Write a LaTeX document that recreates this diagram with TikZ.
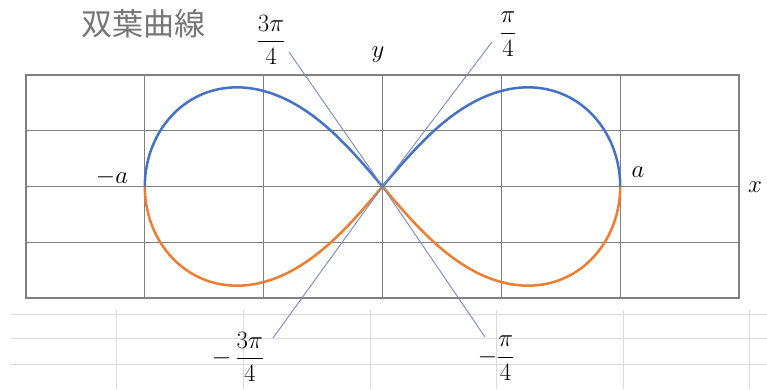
\documentclass[tikz,border=0pt]{standalone}
\usepackage{amsmath}
\usepackage{fontspec}
\newfontfamily\jpfont{Noto Sans CJK JP}
\definecolor{gridgray}{RGB}{128,128,128}
\definecolor{sheetgray}{RGB}{218,218,218}
\definecolor{calloutblue}{RGB}{118,140,184}
\definecolor{curveblue}{RGB}{68,114,196}
\definecolor{curveorange}{RGB}{237,125,49}
\definecolor{titlegray}{RGB}{118,118,118}
\begin{document}
\begin{tikzpicture}[x=1pt,y=-1pt,
  gridline/.style={draw=gridgray,line width=1.2pt},
  sheetline/.style={draw=sheetgray,line width=0.9pt},
  callout/.style={draw=calloutblue,line width=0.9pt},
  bluecurve/.style={draw=curveblue,line width=2.5pt},
  orangecurve/.style={draw=curveorange,line width=2.5pt},
  lbl/.style={inner sep=0pt,font=\fontsize{24}{28}\selectfont},
  fraclbl/.style={inner sep=0pt,font=\fontsize{25}{30}\selectfont},
  titlestyle/.style={inner sep=0pt,text=titlegray,font=\jpfont\fontsize{31}{34}\selectfont}]
\useasboundingbox[fill=white] (0,0) rectangle (767,389);
% spreadsheet lines below
\foreach \yy in {314,338,364} \draw[sheetline] (10,\yy) -- (767,\yy);
\foreach \xx in {116,243,370,496,623,749} \draw[sheetline] (\xx,310) -- (\xx,389);
% chart grid
\foreach \xx in {144.8,263.7,382.5,501.3,620.2} \draw[gridline] (\xx,75) -- (\xx,298);
\foreach \yy in {130.75,186.5,242.25} \draw[gridline] (26,\yy) -- (739,\yy);
\draw[gridline] (26,75) rectangle (739,298);
% lemniscate
\def\A{237.7}
\def\S{1.18}
\coordinate (O) at (382.5,186.5);
\draw[orangecurve] plot[domain=90:180,samples=150] ({382.5+\A*cos(\x)/(1+sin(\x)^2)},{186.5-\S*\A*sin(\x)*cos(\x)/(1+sin(\x)^2)});
\draw[orangecurve] plot[domain=270:360,samples=150] ({382.5+\A*cos(\x)/(1+sin(\x)^2)},{186.5-\S*\A*sin(\x)*cos(\x)/(1+sin(\x)^2)});
\draw[bluecurve] plot[domain=0:90,samples=150] ({382.5+\A*cos(\x)/(1+sin(\x)^2)},{186.5-\S*\A*sin(\x)*cos(\x)/(1+sin(\x)^2)});
\draw[bluecurve] plot[domain=180:270,samples=150] ({382.5+\A*cos(\x)/(1+sin(\x)^2)},{186.5-\S*\A*sin(\x)*cos(\x)/(1+sin(\x)^2)});
% callouts
\coordinate (c1) at (492,42);
\coordinate (c3) at (289,52);
\coordinate (cm3) at (273,338);
\coordinate (cm1) at (485,337);
\draw[callout] (O) -- (c1);
\draw[callout] (O) -- (c3);
\draw[callout] (O) -- (cm3);
\draw[callout] (O) -- (cm1);
% labels
\node[titlestyle] (title) at (143,23.5) {双葉曲線};
\node[fraclbl] (l3) at (271,40) {$\dfrac{3\pi}{4}$};
\node[fraclbl] (l1) at (508,34) {$\dfrac{\pi}{4}$};
\node[fraclbl] (lm3) at (238,357) {$-\,\dfrac{3\pi}{4}$};
\node[fraclbl] (lm1) at (496,358) {$-\dfrac{\pi}{4}$};
\node[lbl] (ly) at (378,55) {$y$};
\node[lbl] (lma) at (112,177) {$-a$};
\node[lbl] (la) at (638,172) {$a$};
\node[lbl] (lx) at (755,187) {$x$};
\end{tikzpicture}
\end{document}
